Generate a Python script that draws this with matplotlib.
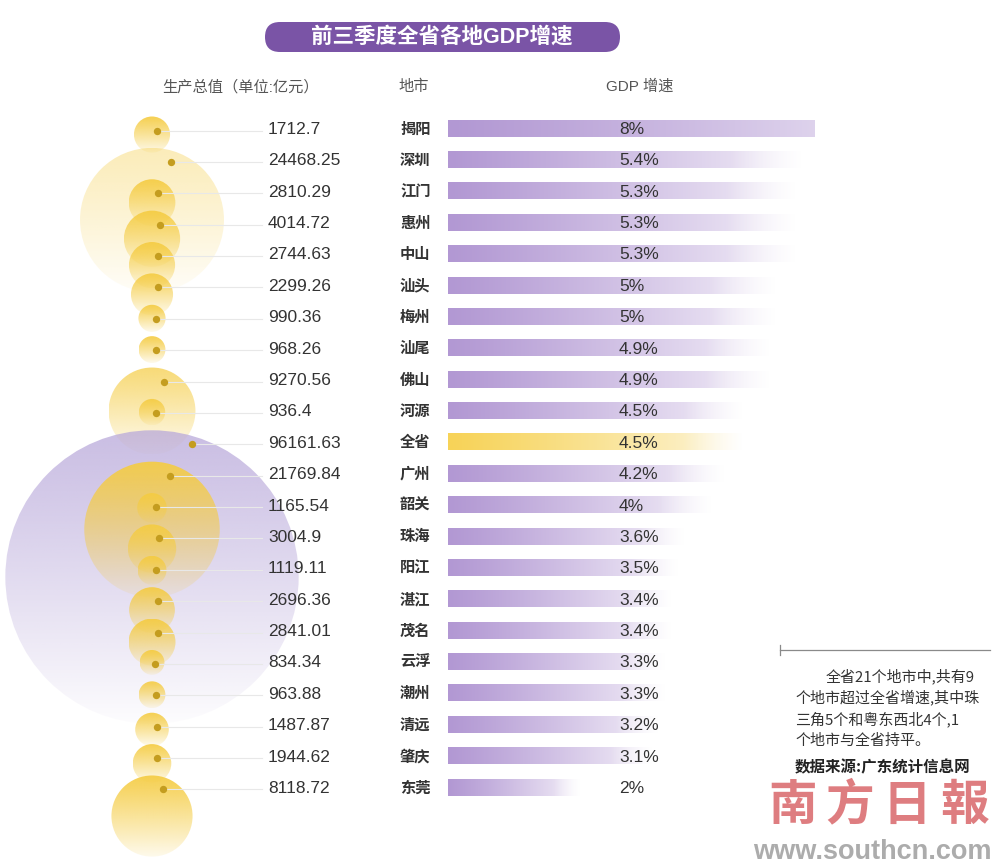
import numpy as np
import matplotlib
matplotlib.use('Agg')
import matplotlib.pyplot as plt
from matplotlib.patches import Circle, FancyBboxPatch

plt.rcParams['font.family'] = ['Liberation Sans', 'Noto Sans CJK SC', 'DejaVu Sans']

# ---------------- data ----------------
cities = ['揭阳', '深圳', '江门', '惠州', '中山', '汕头', '梅州', '汕尾', '佛山', '河源', '全省',
          '广州', '韶关', '珠海', '阳江', '湛江', '茂名', '云浮', '潮州', '清远', '肇庆', '东莞']
gdp = [1712.7, 24468.25, 2810.29, 4014.72, 2744.63, 2299.26, 990.36, 968.26, 9270.56, 936.4,
       96161.63, 21769.84, 1165.54, 3004.9, 1119.11, 2696.36, 2841.01, 834.34, 963.88, 1487.87,
       1944.62, 8118.72]
growth = [8, 5.4, 5.3, 5.3, 5.3, 5, 5, 4.9, 4.9, 4.5, 4.5, 4.2, 4, 3.6, 3.5, 3.4, 3.4, 3.3, 3.3,
          3.2, 3.1, 2]
title = '前三季度全省各地GDP增速'
headers = ['生产总值（单位:亿元）', '地市', 'GDP 增速']
note_lines = ['全省21个地市中,共有9', '个地市超过全省增速,其中珠', '三角5个和粤东西北4个,1', '个地市与全省持平。']
source = '数据来源:广东统计信息网'
masthead = '南方日報'
site = 'www.southcn.com'
total_name = '全省'

# ---------------- layout ----------------
W, H = 1000, 864
fig = plt.figure(figsize=(W / 100, H / 100), dpi=100)
bg = fig.add_axes([0, 0, 1, 1])
bg.axis('off')

ROW0, STEP = 128.5, 31.38
n = len(cities)
row_y = ROW0 + STEP * np.arange(n)

GOLD = np.array([245, 204, 66]) / 255
LAV = np.array([184, 168, 218]) / 255
pale = {'深圳': 0.40, '佛山': 0.78}

# bubbles
NG = 256
tt = np.linspace(0, 1, NG)
for i, (c, v) in enumerate(zip(cities, gdp)):
    r = 0.376 * v ** 0.52
    cx = 152
    cy = row_y[i] - 12 + r
    if c == total_name:
        col, a_top, a_bot = LAV, 0.75, 0.03
    else:
        s = pale.get(c, 1.0)
        col, a_top, a_bot = GOLD, 0.92 * s, 0.10 * s
    img = np.zeros((NG, 1, 4))
    img[:, 0, :3] = col
    img[:, 0, 3] = a_top - (a_top - a_bot) * tt ** 1.1
    im = bg.imshow(img, extent=(cx - r, cx + r, cy + r, cy - r), origin='upper',
                   interpolation='bilinear', aspect='auto', zorder=1 + i * 0.01)
    im.set_clip_path(Circle((cx, cy), r, transform=bg.transData))
    dx, dy = cx + 0.27 * r, row_y[i] + 2
    bg.plot([dx, 262], [dy, dy], color='#e8e8e8', lw=0.8, zorder=2)
    bg.scatter([dx], [dy], s=28, color='#c49d1f', zorder=3, linewidths=0)

bg.set_xlim(0, W)
bg.set_ylim(H, 0)

# title pill
bg.add_patch(FancyBboxPatch((265, 22), 355, 30, boxstyle='round,pad=0,rounding_size=15',
                            facecolor='#7a54a6', edgecolor='none', zorder=5))
bg.text(442, 37.5, title, ha='center', va='center', color='white', fontsize=15.5,
        weight='bold', family=['Liberation Sans', 'Noto Sans CJK SC'], zorder=6)

# headers
hx = [240, 414, 640]
for x, t in zip(hx, headers):
    bg.text(x, 87, t, ha='center', va='center', fontsize=11, color='#555555',
            family=['Liberation Sans', 'Noto Sans CJK SC'])

# note
bg.plot([780, 990], [650, 650], color='#8a8a8a', lw=0.9)
bg.plot([780, 780], [645, 655], color='#8a8a8a', lw=0.9)
nx = [826, 795, 795, 795]
for k, (x, t) in enumerate(zip(nx, note_lines)):
    bg.text(x, 676 + k * 21.5, t, ha='left', va='center', fontsize=10.8, color='#333333',
            family=['Noto Sans CJK SC', 'DejaVu Sans'])
bg.text(795, 767, source, ha='left', va='center', fontsize=11.2, color='#222222',
        weight='bold', family=['Noto Sans CJK SC', 'DejaVu Sans'], zorder=7)

# watermark
for k, ch in enumerate(masthead):
    bg.text(793 + 57 * k, 805, ch, ha='center', va='center', fontsize=35, color='#d9666a',
            alpha=0.85, weight='bold', family=['Noto Sans CJK SC'], zorder=6)
bg.text(872, 852, site, ha='center', va='center', fontsize=19.5, color='#a3a3a3',
        alpha=0.9, weight='bold', family=['Liberation Sans'], zorder=6)

# ---------------- bars ----------------
top_px = ROW0 - STEP / 2
bot_px = ROW0 + (n - 0.5) * STEP
BX0, BW = 448, 367
axb = fig.add_axes([BX0 / W, 1 - bot_px / H, BW / W, (bot_px - top_px) / H])
axb.patch.set_alpha(0)
axb.axis('off')

PURP = np.array([178, 152, 211]) / 255
YEL = np.array([247, 211, 88]) / 255
LIGHT_P = np.array([244, 240, 249]) / 255
LIGHT_Y = np.array([253, 246, 222]) / 255
NB = 400
tb = np.linspace(0, 1, NB)
f = tb ** 1.15
fade = np.clip((1 - tb) / 0.2, 0, 1)
for i, (c, g) in enumerate(zip(cities, growth)):
    c0, c1 = (YEL, LIGHT_Y) if c == total_name else (PURP, LIGHT_P)
    img = np.zeros((1, NB, 4))
    img[0, :, :3] = c0[None, :] * (1 - f[:, None]) + c1[None, :] * f[:, None]
    img[0, :, 3] = fade
    axb.imshow(img, extent=(0, g, i + 0.26, i - 0.26), aspect='auto',
               interpolation='bilinear', zorder=1)

axb.set_xlim(0, 5.6)
axb.set_ylim(n - 0.5, -0.5)

tr = axb.get_yaxis_transform()
for i, (c, v, g) in enumerate(zip(cities, gdp, growth)):
    axb.text((619 - BX0) / BW, i + 0.03, f'{g:g}%', transform=tr, ha='left', va='center',
             fontsize=12.5, color='#333333', family=['Liberation Sans'], zorder=3)
    axb.text((400 - BX0) / BW, i, c, transform=tr, ha='left', va='center', fontsize=11,
             weight='bold', color='#333333', family=['Noto Sans CJK SC'], clip_on=False)
    axb.text((268 - BX0) / BW, i + 0.03, str(v), transform=tr, ha='left', va='center',
             fontsize=12.5, color='#333333', family=['Liberation Sans'], clip_on=False)

fig.savefig('out.png', dpi=100, facecolor='white')
